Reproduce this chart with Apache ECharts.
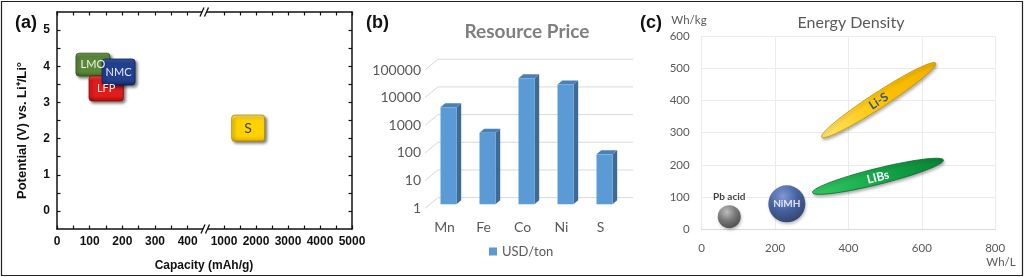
<!DOCTYPE html>
<html><head><meta charset="utf-8">
<script src="https://cdn.jsdelivr.net/npm/echarts@6/dist/echarts.min.js"></script>
<style>html,body{margin:0;padding:0;background:#fff}#c{width:1024px;height:277px}</style>
</head><body><div id="c"></div>
<script>
// ---------- Panel (a): potential vs capacity ----------
const cathodeNames = ['LMO', 'LFP', 'NMC'];
// [capacity min, capacity max, potential min, potential max]
const cathodeRects = [[58, 162, 3.73, 4.36], [98, 203, 3.04, 3.73], [138, 239, 3.48, 4.2]];
const sulfurNames = ['S'];
const sulfurRects = [[1240, 2270, 1.93, 2.65]];
const capLowTicks = [0, 50, 100, 150, 200, 250, 300, 350, 400];
const capLowLabels = [0, 100, 200, 300, 400];
const capHighTicks = [1000, 1500, 2000, 2500, 3000, 3500, 4000, 4500, 5000];
const capHighLabels = [1000, 2000, 3000, 4000, 5000];
const potentialTicks = [0, 0.5, 1, 1.5, 2, 2.5, 3, 3.5, 4, 4.5, 5];
const potentialLabels = [0, 1, 2, 3, 4, 5];

// ---------- Panel (b): resource price ----------
const elements = ['Mn', 'Fe', 'Co', 'Ni', 'S'];
const priceUSDperTon = [3200, 385, 36000, 21500, 64];
const priceTicks = [1, 10, 100, 1000, 10000, 100000];

// ---------- Panel (c): energy density ----------
const sphereNames = ['Pb acid', 'NiMH'];
const sphereCenters = [[75, 39], [232, 79]];           // [Wh/L, Wh/kg]
const ellipseNames = ['LIBs', 'Li-S'];
const ellipseStart = [[302, 114], [327, 286]];
const ellipseEnd = [[659, 215], [638, 516]];

// ---------- styles ----------
const FA = '"Liberation Sans", Arial, sans-serif';
const FC = 'Lato, "Open Sans", sans-serif';
const G = echarts.graphic;
const rectLook = {
  LMO: {c: ['#7ea65a', '#5a883b', '#3d6726'], stroke: '#2f501d', text: '#eef2ea', fs: 11},
  LFP: {c: ['#ff5050', '#e01c1c', '#a80c0c'], stroke: '#8a0a0a', text: '#ffe6e6', fs: 11},
  NMC: {c: ['#3d62ba', '#22408f', '#13285f'], stroke: '#0e1f4c', text: '#e8ecf7', fs: 11},
  S:   {c: ['#ffeb70', '#ffd200', '#e2ab00'], stroke: '#b08600', text: '#3a3a3a', fs: 14}
};
const sphereLook = [
  {size: 23, grad: ['#bcbcbc', '#666666', '#2c2c2c']},
  {size: 37, grad: ['#6f90dc', '#284a98', '#122456']}
];
const ellipseLook = [
  {minor: 16, grad: ['#35c862', '#14a84a', '#0b8236'], stroke: '#0a6b2c', text: '#ffffff'},
  {minor: 15.5, grad: ['#ffe272', '#ffc400', '#f0ae00'], stroke: '#c09200', text: '#2f5597'}
];

function rectRender(names) {
  return function (params, api) {
    const name = names[params.dataIndex];
    const L = rectLook[name];
    const p1 = api.coord([api.value(0), api.value(3)]);
    const p2 = api.coord([api.value(1), api.value(2)]);
    return {
      type: 'rect',
      shape: {x: p1[0], y: p1[1], width: p2[0] - p1[0], height: p2[1] - p1[1], r: 3},
      style: {
        fill: new G.LinearGradient(0, 0, 0, 1, [
          {offset: 0, color: L.c[0]}, {offset: 0.18, color: L.c[1]},
          {offset: 0.8, color: L.c[1]}, {offset: 1, color: L.c[2]}]),
        stroke: L.stroke, lineWidth: 0.8,
        shadowBlur: 3, shadowOffsetX: 2, shadowOffsetY: 2, shadowColor: 'rgba(0,0,0,0.5)'
      },
      textContent: {style: {text: name, fill: L.text, font: L.fs + 'px ' + FC}},
      textConfig: {position: 'inside'}
    };
  };
}

const axisLineA = {show: true, onZero: false, lineStyle: {color: '#111', width: 1.5}};
const tickA = (vals) => ({show: true, inside: true, length: 3.5, customValues: vals, lineStyle: {color: '#111', width: 1.2}});
const labelA = (vals) => ({show: true, customValues: vals, color: '#111', fontFamily: FA, fontWeight: 'bold',
  fontSize: 12, margin: 7, formatter: v => String(v)});

const option = {
  animation: false,
  backgroundColor: '#fff',
  grid: [
    {left: 57, top: 12, width: 147, height: 217, outerBoundsMode: 'none'},
    {left: 204, top: 12, width: 148, height: 217, outerBoundsMode: 'none'},
    {left: 425, top: 70, width: 195, height: 138.3, outerBoundsMode: 'none'},
    {left: 701.7, top: 36, width: 293.5, height: 193.3, outerBoundsMode: 'none'}
  ],
  xAxis: [
    {gridIndex: 0, type: 'value', min: 0, max: 450, position: 'bottom', axisLine: axisLineA,
     axisTick: tickA(capLowTicks), axisLabel: labelA(capLowLabels), splitLine: {show: false}},
    {gridIndex: 0, type: 'value', min: 0, max: 450, position: 'top', axisLine: axisLineA,
     axisTick: tickA(capLowTicks), axisLabel: {show: false}, splitLine: {show: false}},
    {gridIndex: 1, type: 'value', min: 375, max: 5000, position: 'bottom', axisLine: axisLineA,
     axisTick: tickA(capHighTicks), axisLabel: labelA(capHighLabels), splitLine: {show: false}},
    {gridIndex: 1, type: 'value', min: 375, max: 5000, position: 'top', axisLine: axisLineA,
     axisTick: tickA(capHighTicks), axisLabel: {show: false}, splitLine: {show: false}},
    {gridIndex: 2, type: 'category', data: elements, axisLine: {show: false}, axisTick: {show: false},
     axisLabel: {color: '#595959', fontFamily: FC, fontSize: 14, margin: 12}, splitLine: {show: false}},
    {gridIndex: 3, type: 'value', min: 0, max: 800, interval: 200,
     axisLine: {show: true, lineStyle: {color: '#d9d9d9'}}, axisTick: {show: false},
     axisLabel: {color: '#595959', fontFamily: FC, fontSize: 11.5, margin: 13},
     splitLine: {show: true, lineStyle: {color: '#ebebeb'}}}
  ],
  yAxis: [
    {gridIndex: 0, type: 'value', min: -0.5, max: 5.5, position: 'left', axisLine: axisLineA,
     axisTick: tickA(potentialTicks), axisLabel: labelA(potentialLabels), splitLine: {show: false},
     name: 'Potential (V) vs. Li⁺/Li°', nameLocation: 'middle', nameGap: 28,
     nameTextStyle: {color: '#111', fontFamily: FA, fontWeight: 'bold', fontSize: 13, padding: [0, 20, 0, 0]}},
    {gridIndex: 1, type: 'value', min: -0.5, max: 5.5, position: 'right', axisLine: axisLineA,
     axisTick: tickA(potentialTicks), axisLabel: {show: false}, splitLine: {show: false}},
    {gridIndex: 2, type: 'log', logBase: 10, min: 1, max: 100000, splitNumber: 5,
     axisLine: {show: false}, axisTick: {show: false}, splitLine: {show: false},
     axisLabel: {color: '#595959', fontFamily: FC, fontSize: 14, margin: 4, formatter: v => String(Math.round(v))}},
    {gridIndex: 3, type: 'value', min: 0, max: 600, interval: 100,
     axisLine: {show: false}, axisTick: {show: false},
     axisLabel: {color: '#595959', fontFamily: FC, fontSize: 11.5, margin: 12},
     splitLine: {show: true, lineStyle: {color: '#ebebeb'}}}
  ],
  legend: {
    data: ['USD/ton'], left: 484, top: 240, icon: 'rect', itemWidth: 8, itemHeight: 8, itemGap: 5,
    textStyle: {color: '#595959', fontFamily: FC, fontSize: 13}
  },
  series: [
    // panel a
    {type: 'custom', name: 'cathodes', xAxisIndex: 0, yAxisIndex: 0, z: 5,
     data: cathodeRects, renderItem: rectRender(cathodeNames)},
    {type: 'custom', name: 'sulfur', xAxisIndex: 2, yAxisIndex: 1, z: 5,
     data: sulfurRects, renderItem: rectRender(sulfurNames)},
    // panel b gridlines (3D wall)
    {type: 'custom', name: 'grid3d', xAxisIndex: 4, yAxisIndex: 2, z: 1, silent: true,
     data: priceTicks.map(v => [0, v]),
     renderItem: function (params, api) {
       const cs = params.coordSys;
       const y = api.coord([0, api.value(1)])[1];
       const x0 = cs.x, x1 = cs.x + cs.width;
       return {type: 'polyline', shape: {points: [[x0, y], [x0 + 13, y - 10.7], [x1 + 13, y - 10.7]]},
               style: {stroke: '#d9d9d9', lineWidth: 1, fill: null}};
     }},
    // panel b bars (3D)
    {type: 'custom', name: 'USD/ton', xAxisIndex: 4, yAxisIndex: 2, z: 3,
     itemStyle: {color: '#5b9bd5'},
     data: elements.map((e, i) => [i, priceUSDperTon[i]]),
     renderItem: function (params, api) {
       const i = api.value(0), v = api.value(1);
       const base = api.coord([i, 1]), top = api.coord([i, v]);
       const w = 16, ox = 4, oy = -4, sd = 4.7, td = 4;
       const xl = base[0] - w / 2 + ox, xr = xl + w;
       const yb = base[1] + oy, yt = top[1] + oy;
       return {type: 'group', children: [
         {type: 'polygon', shape: {points: [[xr, yt], [xr + sd, yt - td], [xr + sd, yb - td], [xr, yb]]},
          style: {fill: '#3d6a96'}},
         {type: 'polygon', shape: {points: [[xl, yt], [xl + sd, yt - td], [xr + sd, yt - td], [xr, yt]]},
          style: {fill: '#4a80b4'}},
         {type: 'rect', shape: {x: xl, y: yt, width: w, height: yb - yt}, style: {fill: '#5b9bd5'}}
       ]};
     }},
    // panel c spheres
    {type: 'scatter', name: 'spheres', xAxisIndex: 5, yAxisIndex: 3, z: 4,
     data: sphereCenters.map((c, i) => ({
       value: c, name: sphereNames[i], symbolSize: sphereLook[i].size,
       itemStyle: {color: new G.RadialGradient(0.4, 0.3, 0.75, [
         {offset: 0, color: sphereLook[i].grad[0]}, {offset: 0.5, color: sphereLook[i].grad[1]},
         {offset: 1, color: sphereLook[i].grad[2]}]),
         shadowBlur: 3, shadowOffsetX: 1, shadowOffsetY: 2, shadowColor: 'rgba(0,0,0,0.3)'},
       label: i === 0
         ? {show: true, position: 'top', distance: 3, formatter: '{b}', color: '#111', fontFamily: FC, fontWeight: 'bold', fontSize: 10}
         : {show: true, position: 'inside', formatter: '{b}', color: '#fff', fontFamily: FC, fontWeight: 'bold', fontSize: 10}
     }))},
    // panel c ellipses
    {type: 'custom', name: 'ellipses', xAxisIndex: 5, yAxisIndex: 3, z: 4,
     data: ellipseStart.map((s, i) => [s[0], s[1], ellipseEnd[i][0], ellipseEnd[i][1]]),
     renderItem: function (params, api) {
       const k = params.dataIndex, L = ellipseLook[k];
       const p1 = api.coord([api.value(0), api.value(1)]);
       const p2 = api.coord([api.value(2), api.value(3)]);
       const cx = (p1[0] + p2[0]) / 2, cy = (p1[1] + p2[1]) / 2;
       const dx = p2[0] - p1[0], dy = p2[1] - p1[1];
       const a = Math.sqrt(dx * dx + dy * dy) / 2, b = L.minor / 2;
       const ang = Math.atan2(dy, dx);
       const ca = Math.cos(ang), sa = Math.sin(ang);
       const pts = [];
       for (let t = 0; t < 72; t++) {
         const th = t / 72 * Math.PI * 2;
         const ex = a * Math.cos(th), ey = b * Math.sin(th);
         pts.push([cx + ex * ca - ey * sa, cy + ex * sa + ey * ca]);
       }
       return {type: 'group', children: [
         {type: 'polygon', shape: {points: pts},
          style: {fill: new G.LinearGradient(0, 1, 1, 0, [
            {offset: 0, color: L.grad[0]}, {offset: 0.5, color: L.grad[1]}, {offset: 1, color: L.grad[2]}]),
            stroke: L.stroke, lineWidth: 0.8,
            shadowBlur: 3, shadowOffsetX: 1, shadowOffsetY: 2, shadowColor: 'rgba(0,0,0,0.3)'}},
         {type: 'text', x: cx, y: cy + 1, rotation: -ang,
          style: {text: ellipseNames[k], fill: L.text, font: 'bold 12px ' + FC,
                  align: 'center', verticalAlign: 'middle', textAlign: 'center', textVerticalAlign: 'middle'}}
       ]};
     }}
  ],
  graphic: [
    {type: 'rect', z: 200, shape: {x: 1.5, y: 1.5, width: 1021, height: 274},
     style: {fill: null, stroke: '#222', lineWidth: 1.2}},
    // axis break marks
    {type: 'polygon', z: 150, shape: {points: [[200, 16.5], [204, 7.5], [208.5, 7.5], [204.5, 16.5]]}, style: {fill: '#fff'}},
    {type: 'line', z: 151, shape: {x1: 200, y1: 16.5, x2: 204, y2: 7.5}, style: {stroke: '#111', lineWidth: 1.3}},
    {type: 'line', z: 151, shape: {x1: 204.5, y1: 16.5, x2: 208.5, y2: 7.5}, style: {stroke: '#111', lineWidth: 1.3}},
    {type: 'polygon', z: 150, shape: {points: [[201, 233.5], [205, 224.5], [209.5, 224.5], [205.5, 233.5]]}, style: {fill: '#fff'}},
    {type: 'line', z: 151, shape: {x1: 201, y1: 233.5, x2: 205, y2: 224.5}, style: {stroke: '#111', lineWidth: 1.3}},
    {type: 'line', z: 151, shape: {x1: 205.5, y1: 233.5, x2: 209.5, y2: 224.5}, style: {stroke: '#111', lineWidth: 1.3}},
    // texts
    {type: 'text', z: 100, style: {x: 15, y: 23, text: '(a)', font: 'bold 18px ' + FA, fill: '#111', verticalAlign: 'middle', textVerticalAlign: 'middle'}},
    {type: 'text', z: 100, style: {x: 366, y: 23, text: '(b)', font: 'bold 18px ' + FA, fill: '#111', verticalAlign: 'middle', textVerticalAlign: 'middle'}},
    {type: 'text', z: 100, style: {x: 640, y: 23, text: '(c)', font: 'bold 18px ' + FA, fill: '#111', verticalAlign: 'middle', textVerticalAlign: 'middle'}},
    {type: 'text', z: 100, style: {x: 204, y: 266, text: 'Capacity (mAh/g)', font: 'bold 12px ' + FA, fill: '#111', align: 'center', textAlign: 'center', verticalAlign: 'middle', textVerticalAlign: 'middle'}},
    {type: 'text', z: 100, style: {x: 527, y: 32, text: 'Resource Price', font: 'bold 19px ' + FC, fill: '#7f7f7f', align: 'center', textAlign: 'center', verticalAlign: 'middle', textVerticalAlign: 'middle'}},
    {type: 'text', z: 100, style: {x: 851, y: 23, text: 'Energy Density', font: '16px ' + FC, fill: '#595959', align: 'center', textAlign: 'center', verticalAlign: 'middle', textVerticalAlign: 'middle'}},
    {type: 'text', z: 100, style: {x: 689, y: 20, text: 'Wh/kg', font: '11.5px ' + FC, fill: '#595959', align: 'center', textAlign: 'center', verticalAlign: 'middle', textVerticalAlign: 'middle'}},
    {type: 'text', z: 100, style: {x: 1001, y: 262, text: 'Wh/L', font: '11.5px ' + FC, fill: '#595959', align: 'center', textAlign: 'center', verticalAlign: 'middle', textVerticalAlign: 'middle'}}
  ]
};
const chart = echarts.init(document.getElementById('c'), null, {renderer: 'canvas', width: 1024, height: 277});
chart.setOption(option);
</script></body></html>
